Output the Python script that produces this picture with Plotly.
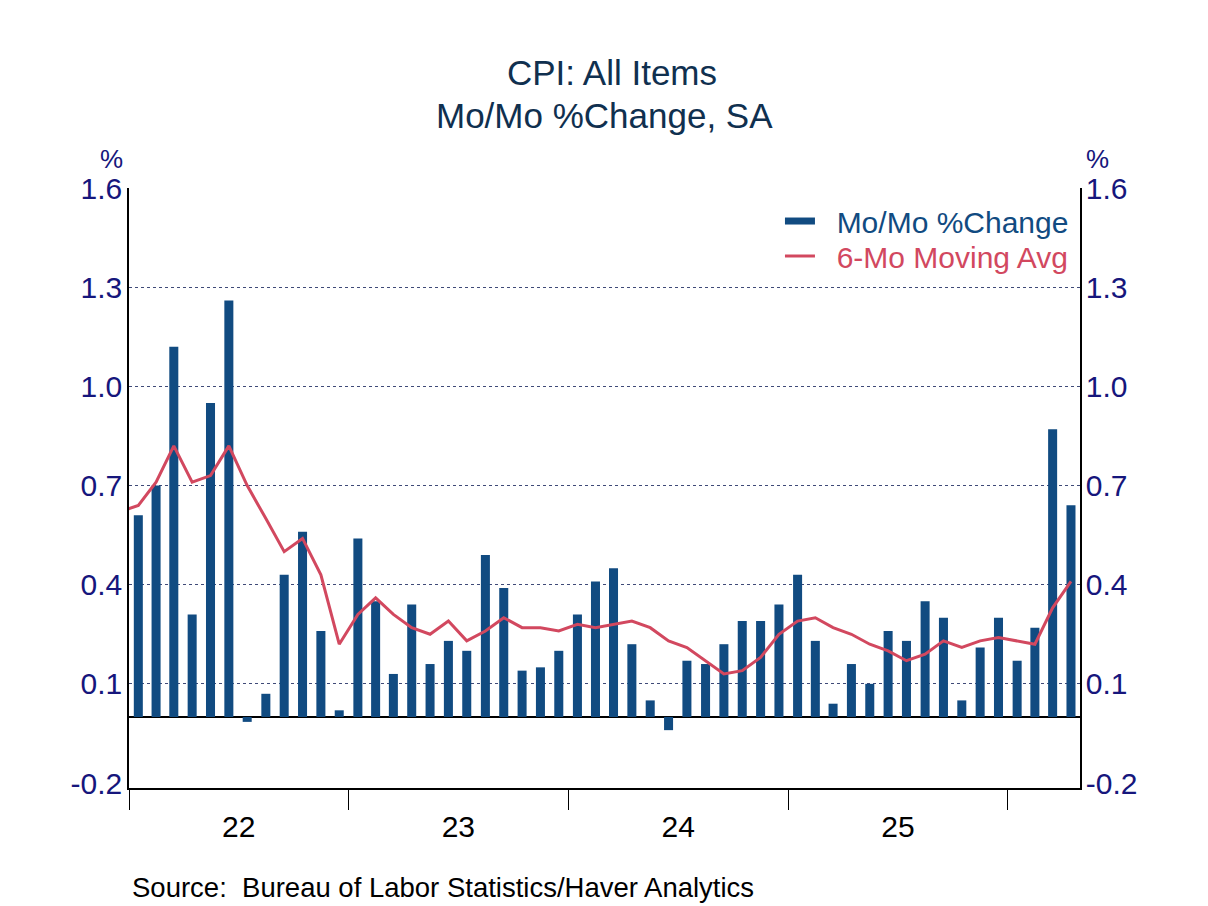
import pandas as pd
import plotly.graph_objects as go

# Monthly CPI % change (SA), Jan 2022 - Apr 2026
bar_months = pd.date_range("2022-01-01", periods=52, freq="MS")
mom_change = [
    0.61, 0.70, 1.12, 0.31, 0.95, 1.26, -0.015, 0.07, 0.43, 0.56, 0.26, 0.02,
    0.54, 0.35, 0.13, 0.34, 0.16, 0.23, 0.20, 0.49, 0.39, 0.14, 0.15, 0.20,
    0.31, 0.41, 0.45, 0.22, 0.05, -0.04, 0.17, 0.16, 0.22, 0.29, 0.29, 0.34,
    0.43, 0.23, 0.04, 0.16, 0.10, 0.26, 0.23, 0.35, 0.30, 0.05, 0.21, 0.30,
    0.17, 0.27, 0.87, 0.64,
]

# 6-month moving average, starts Dec 2021 (clipped at the left edge)
ma_months = pd.date_range("2021-12-01", periods=53, freq="MS")
ma_6mo = [
    0.62,
    0.64, 0.71, 0.82, 0.71, 0.73, 0.82, 0.70, 0.60, 0.50, 0.54, 0.43, 0.22,
    0.31, 0.36, 0.31, 0.27, 0.25, 0.29, 0.23, 0.26, 0.30, 0.27, 0.27, 0.26,
    0.28, 0.27, 0.28, 0.29, 0.27, 0.23, 0.21, 0.17, 0.13, 0.14, 0.18, 0.25,
    0.29, 0.30, 0.27, 0.25, 0.22, 0.20, 0.17, 0.19, 0.23, 0.21, 0.23, 0.24,
    0.23, 0.22, 0.33, 0.41,
]

y_ticks = [-0.2, 0.1, 0.4, 0.7, 1.0, 1.3, 1.6]
grid_vals = [0.1, 0.4, 0.7, 1.0, 1.3, 1.6]

BAR_COL = "#114b81"
LINE_COL = "#d2485f"
TICK_COL = "#16167c"
TITLE_COL = "#10304f"
FONT = "Liberation Sans, Arial, sans-serif"
y_range = [-0.215, 1.6]

fig = go.Figure()

fig.add_trace(go.Bar(
    x=bar_months, y=mom_change,
    xperiod="M1", xperiodalignment="middle",
    width=15 * 86400000,
    marker=dict(color=BAR_COL, line=dict(width=0)),
    showlegend=False,
))

# legend stand-in for the bars (thick dash like the original)
fig.add_trace(go.Scatter(
    x=[None], y=[None], mode="lines",
    line=dict(color=BAR_COL, width=7),
    name="&nbsp;&nbsp;<span style='color:%s'>Mo/Mo %%Change</span>" % BAR_COL,
    legend="legend",
))

# moving average drawn on the right-hand axis (same scale) so that axis shows
fig.add_trace(go.Scatter(
    x=ma_months, y=ma_6mo, yaxis="y2",
    xperiod="M1", xperiodalignment="middle",
    mode="lines",
    line=dict(color=LINE_COL, width=3),
    name="&nbsp;&nbsp;<span style='color:%s'>6-Mo Moving Avg</span>" % LINE_COL,
    legend="legend2",
))

leg_style = dict(xanchor="left", yanchor="top", bgcolor="rgba(0,0,0,0)",
                 font=dict(size=30), itemwidth=30)

fig.update_layout(
    width=1208, height=906,
    paper_bgcolor="white", plot_bgcolor="white",
    margin=dict(l=121, r=136, t=180, b=126),
    font=dict(family=FONT, size=30, color=TICK_COL),
    title=dict(
        text="CPI: All Items",
        x=0.5, xanchor="center",
        y=1 - 65 / 906, yanchor="middle",
        font=dict(size=35, color=TITLE_COL),
    ),
    showlegend=True,
    legend=dict(x=0.6845, y=0.9883, **leg_style),
    legend2=dict(x=0.6845, y=0.93, **leg_style),
    bargap=0.5,
    xaxis=dict(
        type="date",
        range=["2022-01-01", "2026-05-01"],
        tick0="2022-01-01", dtick="M12",
        ticklabelmode="period", tickformat="%y",
        ticks="outside", ticklen=20, tickwidth=1, tickcolor="black",
        showline=True, linecolor="black", linewidth=1.5,
        showgrid=False, zeroline=False,
        ticklabelstandoff=-9,
        tickfont=dict(color="black", size=30),
    ),
    yaxis=dict(
        range=y_range,
        tickvals=y_ticks, ticktext=["%.1f" % v for v in y_ticks],
        ticks="", showgrid=False,
        minor=dict(tickvals=grid_vals, showgrid=True, gridcolor="#3f4a78",
                   griddash="dot", gridwidth=1, ticks=""),
        zeroline=True, zerolinecolor="black", zerolinewidth=1.5,
        showline=True, linecolor="black", linewidth=1.5,
        ticklabelstandoff=-1,
        tickfont=dict(color=TICK_COL, size=30),
    ),
    yaxis2=dict(
        overlaying="y", side="right", anchor="x",
        range=y_range,
        tickvals=y_ticks, ticktext=["%.1f" % v for v in y_ticks],
        ticks="", showgrid=False, zeroline=False,
        showline=True, linecolor="black", linewidth=1.5,
        ticklabelstandoff=-2,
        tickfont=dict(color=TICK_COL, size=30),
    ),
)

# second title line
fig.add_annotation(text="Mo/Mo %Change, SA", xref="paper", yref="paper",
                   x=(604 - 8 - 121) / 951, y=(780 - 107) / 600,
                   xanchor="center", yanchor="middle", showarrow=False,
                   font=dict(size=35, color=TITLE_COL))

fig.add_annotation(text="%", xref="paper", yref="paper", x=0, y=1.049,
                   xanchor="right", yanchor="middle", xshift=-4, showarrow=False,
                   font=dict(size=26, color=TICK_COL))
fig.add_annotation(text="%", xref="paper", yref="paper", x=1, y=1.049,
                   xanchor="left", yanchor="middle", xshift=4, showarrow=False,
                   font=dict(size=26, color=TICK_COL))
fig.add_annotation(text="Source:&nbsp; Bureau of Labor Statistics/Haver Analytics",
                   xref="paper", yref="paper", x=(122 - 121) / 951, y=-(879 - 780) / 600,
                   xanchor="left", yanchor="middle", showarrow=False,
                   font=dict(size=27.5, color="black"))

fig.write_html("out.html")
